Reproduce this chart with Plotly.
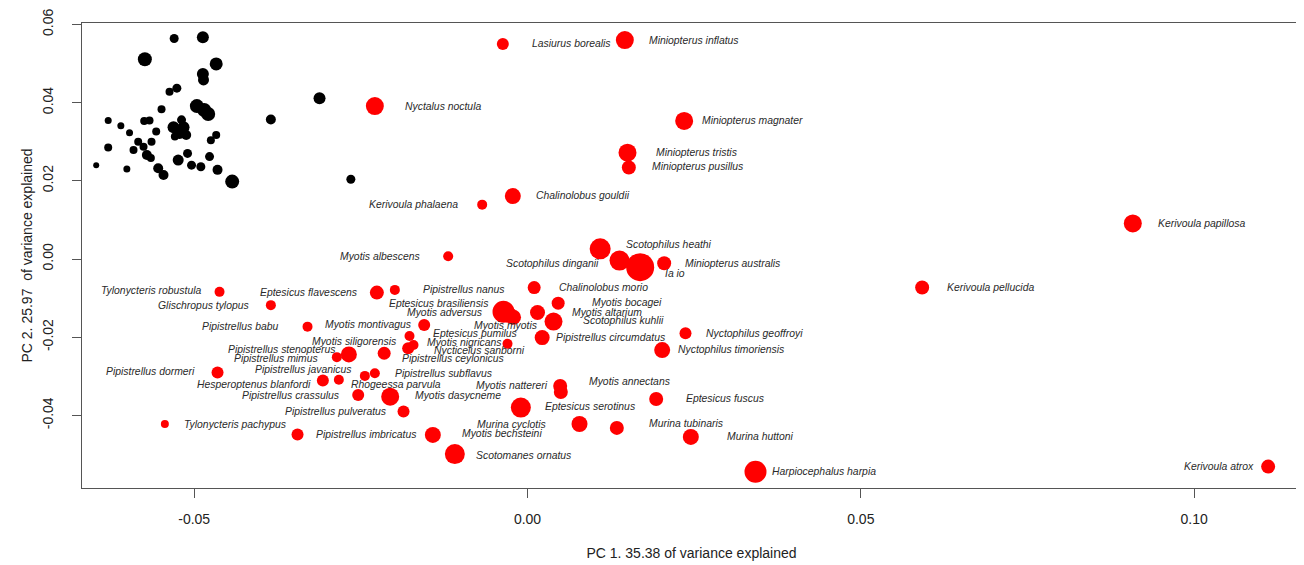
import plotly.graph_objects as go

# ---------------- data ----------------
red_species = [
    "Lasiurus borealis", "Miniopterus inflatus", "Nyctalus noctula", "Miniopterus magnater",
    "Miniopterus tristis", "Miniopterus pusillus", "Chalinolobus gouldii", "Kerivoula phalaena",
    "Kerivoula papillosa", "Kerivoula pellucida", "Kerivoula atrox", "Harpiocephalus harpia",
    "Murina huttoni", "Murina tubinaris", "Murina cyclotis", "Eptesicus fuscus",
    "Myotis annectans", "Myotis nattereri", "Eptesicus serotinus", "Scotomanes ornatus",
    "Myotis bechsteini", "Pipistrellus imbricatus", "Tylonycteris pachypus", "Pipistrellus pulveratus",
    "Myotis dasycneme", "Pipistrellus crassulus", "Hesperoptenus blanfordi", "Pipistrellus javanicus",
    "Rhogeessa parvula", "Pipistrellus subflavus", "Pipistrellus dormeri", "Pipistrellus mimus",
    "Pipistrellus stenopterus", "Pipistrellus ceylonicus", "Myotis siligorensis", "Eptesicus pumilus",
    "Myotis nigricans", "Nycticeius sanborni", "Myotis montivagus", "Pipistrellus babu",
    "Glischropus tylopus", "Tylonycteris robustula", "Eptesicus flavescens", "Pipistrellus nanus",
    "Myotis albescens", "Chalinolobus morio", "Eptesicus brasiliensis", "Myotis adversus",
    "Myotis myotis", "Myotis altarium", "Myotis bocagei", "Scotophilus kuhlii",
    "Pipistrellus circumdatus", "Nyctophilus geoffroyi", "Nyctophilus timoriensis", "Miniopterus australis",
    "Scotophilus heathi", "Scotophilus dinganii", "Ia io",
]
red_pc1 = [
    -0.0037, 0.0146, -0.0229, 0.0235, 0.0150, 0.0152, -0.0022, -0.0068,
    0.0908, 0.0592, 0.1111, 0.0342, 0.0245, 0.0134, 0.0078, 0.0193,
    0.0050, 0.0049, -0.0010, -0.0109, -0.0142, -0.0345, -0.0544, -0.0186,
    -0.0206, -0.0254, -0.0307, -0.0244, -0.0283, -0.0229, -0.0465, -0.0286,
    -0.0268, -0.0215, -0.0177, -0.0171, -0.0179, -0.0030, -0.0155, -0.0330,
    -0.0385, -0.0462, -0.0226, -0.0199, -0.0119, 0.0010, -0.0036, -0.0021,
    -0.0028, 0.0015, 0.0046, 0.0039, 0.0022, 0.0237, 0.0202, 0.0205,
    0.0109, 0.0138, 0.0169,
]
red_pc2 = [
    0.0550, 0.0560, 0.0391, 0.0353, 0.0272, 0.0234, 0.0161, 0.0139,
    0.0091, -0.0073, -0.0531, -0.0544, -0.0455, -0.0432, -0.0422, -0.0358,
    -0.0340, -0.0325, -0.0380, -0.0499, -0.0450, -0.0449, -0.0422, -0.0390,
    -0.0352, -0.0348, -0.0311, -0.0299, -0.0309, -0.0292, -0.0290, -0.0251,
    -0.0244, -0.0241, -0.0197, -0.0220, -0.0228, -0.0217, -0.0169, -0.0173,
    -0.0118, -0.0084, -0.0086, -0.0079, 0.0007, -0.0073, -0.0135, -0.0149,
    -0.0143, -0.0137, -0.0113, -0.0160, -0.0201, -0.0190, -0.0233, -0.0011,
    0.0026, -0.0004, -0.0021,
]
red_size = [
    12, 18, 18, 18, 18, 14, 16, 10,
    18, 14, 14, 22, 16, 14, 16, 14,
    14, 14, 20, 20, 16, 12, 8, 12,
    18, 12, 12, 10, 10, 10, 12, 10,
    16, 13, 10, 10, 12, 10, 12, 10,
    10, 10, 14, 10, 10, 13, 22, 15,
    16, 15, 13, 18, 15, 12, 16, 14,
    21, 20, 28,
]

black_pc1 = [
    -0.0530, -0.0487, -0.0574, -0.0467, -0.0487, -0.0486, -0.0526, -0.0537,
    -0.0549, -0.0496, -0.0485, -0.0479, -0.0385, -0.0629, -0.0610, -0.0575,
    -0.0567, -0.0597, -0.0557, -0.0531, -0.0519, -0.0516, -0.0522, -0.0529,
    -0.0512, -0.0467, -0.0475, -0.0629, -0.0591, -0.0584, -0.0564, -0.0576,
    -0.0571, -0.0565, -0.0524, -0.0510, -0.0477, -0.0647, -0.0601, -0.0554,
    -0.0546, -0.0504, -0.0490, -0.0465, -0.0443, -0.0312, -0.0265,
]
black_pc2 = [
    0.0564, 0.0567, 0.0511, 0.0499, 0.0473, 0.0458, 0.0437, 0.0428,
    0.0383, 0.0391, 0.0381, 0.0371, 0.0357, 0.0354, 0.0341, 0.0353,
    0.0354, 0.0323, 0.0326, 0.0337, 0.0356, 0.0337, 0.0322, 0.0313,
    0.0317, 0.0317, 0.0304, 0.0285, 0.0279, 0.0300, 0.0300, 0.0287,
    0.0266, 0.0258, 0.0253, 0.0270, 0.0262, 0.0240, 0.0230, 0.0232,
    0.0215, 0.0240, 0.0236, 0.0228, 0.0198, 0.0411, 0.0204,
]
black_size = [
    9, 12, 14, 13, 12, 11, 9, 8,
    8, 14, 14, 14, 10, 7, 7, 8,
    8, 7, 8, 12, 9, 12, 12, 8,
    10, 8, 8, 8, 8, 8, 8, 8,
    10, 8, 11, 9, 9, 6, 7, 10,
    10, 9, 9, 10, 14, 12, 9,
]

# ---------------- label placement (pixels; side of the point) ----------------
label_side = [
    "L", "L", "L", "L", "L", "L", "L", "R",
    "L", "L", "R", "L", "L", "L", "R", "L",
    "L", "R", "L", "L", "L", "L", "L", "R",
    "L", "R", "R", "R", "L", "L", "R", "R",
    "R", "L", "R", "L", "L", "L", "R", "R",
    "R", "R", "R", "L", "R", "L", "R", "R",
    "L", "L", "L", "L", "L", "L", "L", "L",
    "L", "R", "L",
]
label_dx = [
    27, 22, 28, 16, 26, 21, 21, -22,
    23, 23, -12, 14, 34, 30, -32, 28,
    26, -10, 22, 19, 27, 16, 17, -16,
    23, -17, -10, -12, 10, 18, -21, -17,
    -12, 16, -12, 17, 17, -76, -11, -28,
    -20, -16, -18, 26, -26, 23, -14, -30,
    -37, 32, 32, 27, 12, 18, 14, 19,
    24, -19, 23,
]
label_dy = [
    0, 0, 0, 0, 0, -1, -1, 0,
    0, 0, 0, 0, 0, -4, 0, 0,
    -10, -1, -1, 1, -1, 0, 0, 0,
    -1, 0, 4, -6, 5, 0, -1, 1,
    -5, 5, 5, -12, -6, 7, -1, 0,
    0, -1, 0, 0, 0, 0, -8, -5,
    11, 0, -1, -1, 0, 0, -1, 0,
    -4, 3, 6,
]

# ---------------- figure ----------------
fig = go.Figure()
fig.add_trace(go.Scatter(
    x=black_pc1, y=black_pc2, mode="markers",
    marker=dict(color="#000000", size=black_size, opacity=1, line=dict(width=0)),
    hoverinfo="skip", showlegend=False,
))
fig.add_trace(go.Scatter(
    x=red_pc1, y=red_pc2, mode="markers", text=red_species,
    marker=dict(color="#ff0000", size=red_size, opacity=1, line=dict(width=0)),
    showlegend=False,
))

for name, px, py, side, dx, dy in zip(red_species, red_pc1, red_pc2, label_side, label_dx, label_dy):
    fig.add_annotation(
        x=px, y=py, xref="x", yref="y", text="<i>" + name + "</i>",
        showarrow=False, xanchor="left" if side == "L" else "right", yanchor="middle",
        xshift=dx, yshift=-dy,
        font=dict(family="Liberation Sans, Arial, sans-serif", size=10.4, color="#2a2a2a"),
    )

axis_common = dict(
    showgrid=False, zeroline=False, showline=True, mirror=True, automargin=False,
    linecolor="#555555", linewidth=1.3, ticks="outside", tickcolor="#555555",
    tickwidth=1.3, ticklen=9,
    tickfont=dict(family="Liberation Sans, Arial, sans-serif", size=14, color="#222222"),
    title_font=dict(family="Liberation Sans, Arial, sans-serif", size=14, color="#222222"),
)

fig.update_layout(
    width=1296, height=557,
    margin=dict(l=74, r=3, t=15, b=77, autoexpand=False),
    paper_bgcolor="white", plot_bgcolor="white",
    xaxis=dict(
        range=[-0.06683, 0.11603], tickvals=[-0.05, 0.0, 0.05, 0.10],
        ticktext=["-0.05", "0.00", "0.05", "0.10"],
        ticklabelstandoff=9,
        title=dict(text="PC 1. 35.38 of variance explained", standoff=22),
        **axis_common,
    ),
    yaxis=dict(
        range=[-0.05857, 0.06036], tickvals=[-0.04, -0.02, 0.0, 0.02, 0.04, 0.06],
        ticktext=["-0.04", "-0.02", "0.00", "0.02", "0.04", "0.06"],
        tickangle=-90, ticklabelstandoff=13,
        title=dict(text="PC 2. 25.97 &nbsp;of variance explained", standoff=4),
        **axis_common,
    ),
)

fig.write_html("out.html")
